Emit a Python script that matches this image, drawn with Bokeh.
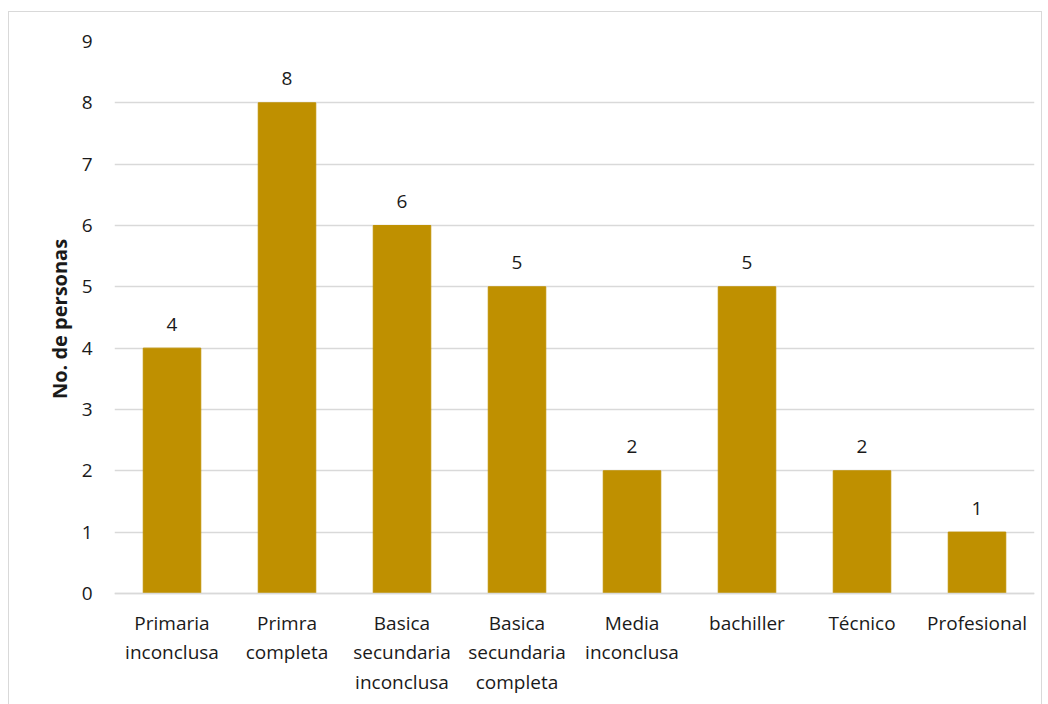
from bokeh.plotting import figure
from bokeh.models import ColumnDataSource, Range1d, FixedTicker, Span
from bokeh.layouts import column
from bokeh.core.properties import value
from bokeh.embed import file_html
from bokeh.resources import INLINE

categories = ["Primaria\ninconclusa", "Primra\ncompleta", "Basica\nsecundaria\ninconclusa",
              "Basica\nsecundaria\ncompleta", "Media\ninconclusa", "bachiller", "Técnico", "Profesional"]
counts = [4, 8, 6, 5, 2, 5, 2, 1]
y_ticks = [0, 1, 2, 3, 4, 5, 6, 7, 8, 9]

FONT = "Open Sans"
TXT = "#1a1a1a"
GRID = "#D9D9D9"
xpos = [i + 0.5 for i in range(len(categories))]
src = ColumnDataSource(dict(x=xpos, n=counts, lbl=[str(c) for c in counts]))

W = 1032
x_range = Range1d(0, len(categories))
BOT = 14

# ---- main chart ----
p = figure(width=W, height=584 + BOT, x_range=x_range, y_range=Range1d(-0.05, 9),
           output_backend="svg", toolbar_location=None,
           min_border_left=105, min_border_right=7, min_border_top=29, min_border_bottom=BOT)
p.outline_line_color = None
p.xaxis.visible = False
p.xgrid.grid_line_color = None

p.vbar(x="x", top="n", bottom=0, width=0.5, source=src, color="#BF9000")
p.text(x="x", y="n", text="lbl", source=src, y_offset=-24, text_align="center",
       text_baseline="middle", text_font=value(FONT), text_font_size="19px", text_color=TXT)
p.add_layout(Span(location=0, dimension="width", line_color=GRID, line_width=1.5))

p.yaxis.ticker = FixedTicker(ticks=y_ticks)
p.yaxis.axis_line_color = None
p.yaxis.major_tick_line_color = None
p.yaxis.minor_tick_line_color = None
p.yaxis.major_label_text_font = FONT
p.yaxis.major_label_text_font_size = "19px"
p.yaxis.major_label_text_color = TXT
p.yaxis.major_label_standoff = 16
p.yaxis.axis_label = "No. de personas"
p.yaxis.axis_label_text_font = FONT
p.yaxis.axis_label_text_font_size = "20px"
p.yaxis.axis_label_text_font_style = "bold"
p.yaxis.axis_label_text_color = TXT
p.yaxis.axis_label_standoff = 6
p.ygrid.grid_line_color = GRID
p.ygrid.grid_line_width = 1.5

# ---- category labels strip ----
H2 = 704 - 11 - 584 - BOT + 1
lx, ly, lt = [], [], []
for xi, cat in zip(xpos, categories):
    for j, line in enumerate(cat.split("\n")):
        lx.append(xi)
        ly.append(-(26 - BOT + 29.5 * j))
        lt.append(line)
q = figure(width=W, height=H2, x_range=x_range, y_range=Range1d(-H2, 0),
           output_backend="svg", toolbar_location=None,
           min_border_left=105, min_border_right=7, min_border_top=0, min_border_bottom=0)
q.axis.visible = False
q.grid.grid_line_color = None
q.outline_line_color = None
q.text(x=lx, y=ly, text=lt, text_align="center", text_baseline="middle",
       text_font=value(FONT), text_font_size="19px", text_color=TXT)

layout = column(p, q, spacing=0)
layout.margin = (11, 0, 0, 8)
layout.styles = {"border": "1px solid " + GRID}

open("out.html", "w").write(file_html(layout, INLINE))
